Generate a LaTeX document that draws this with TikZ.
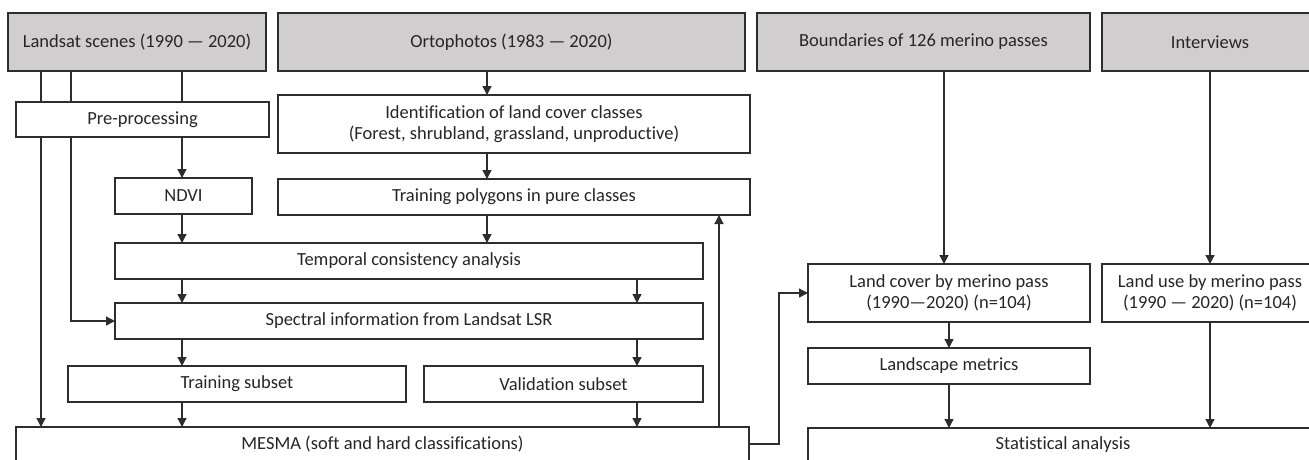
\documentclass[tikz,border=0pt]{standalone}
\usepackage{fontspec}
\setmainfont{Carlito}[Ligatures=NoCommon]
\usetikzlibrary{arrows.meta,backgrounds}
\definecolor{hdr}{RGB}{208,206,206}
\definecolor{ln}{RGB}{45,45,45}
\definecolor{tx}{RGB}{38,38,38}
\newcommand\placebox[7]{\node[#1,minimum width={#5-#4},minimum height={#7-#6}] (#2) at ({(#4+#5)/2},{(#6+#7)/2}) {#3};}
\begin{document}
\begin{tikzpicture}[x=1pt,y=-1pt,
  box/.style={draw=ln, line width=1.3pt, fill=white, inner sep=0pt, outer sep=0pt, text=tx,
    font=\fontsize{18.5}{21}\selectfont, align=center},
  hbox/.style={box, fill=hdr},
  conn/.style={draw=ln, line width=1.3pt},
  arr/.style={conn, -{Triangle[length=9pt,width=9pt]}},
]
\useasboundingbox (0,0) rectangle (1309,459);
\clip (0,0) rectangle (1309,459);
% column coordinates
\coordinate (cA) at (41,0);
\coordinate (cB) at (71,0);
\coordinate (cC) at (182,0);
\coordinate (cD) at (487,0);
\coordinate (cE) at (637,0);
\coordinate (cF) at (719,0);
\coordinate (cG) at (779,0);
\coordinate (cH) at (944,0);
\coordinate (cI) at (949,0);
\coordinate (cJ) at (1210,0);
% header boxes
\placebox{hbox}{ls}{Landsat scenes (1990 — 2020)}{8}{266}{13}{71}
\placebox{hbox}{orto}{Ortophotos (1983 — 2020)}{278}{745}{13}{71}
\placebox{hbox}{bnd}{Boundaries of 126 merino passes}{757}{1090}{13}{71}
\placebox{hbox}{intv}{Interviews}{1102}{1318}{13}{71}
% process boxes
\placebox{box}{pre}{Pre-processing}{16}{269}{102}{137}
\placebox{box}{ident}{Identification of land cover classes\\(Forest, shrubland, grassland, unproductive)}{278}{750}{95}{153}
\placebox{box}{ndvi}{NDVI}{115}{252}{178}{214}
\placebox{box}{tp}{Training polygons in pure classes}{278}{750}{179}{215}
\placebox{box}{temp}{Temporal consistency analysis}{115}{703}{243}{279}
\placebox{box}{spec}{Spectral information from Landsat LSR}{115}{703}{303}{339}
\placebox{box}{trs}{Training subset}{68}{406}{366}{402}
\placebox{box}{val}{Validation subset}{424}{703}{366}{402}
\placebox{box}{mesma}{MESMA (soft and hard classifications)}{16}{749}{427}{461}
\placebox{box}{lc}{Land cover by merino pass\\(1990—2020) (n=104)}{808}{1090}{264}{322}
\placebox{box}{lu}{Land use by merino pass\\(1990 — 2020) (n=104)}{1102}{1318}{264}{322}
\placebox{box}{lm}{Landscape metrics}{808}{1090}{348}{384}
\placebox{box}{stat}{Statistical analysis}{808}{1318}{428}{461}
% connectors passing behind the pre-processing box
\begin{pgfonlayer}{background}
\draw[arr] (ls.south -| cA) -- (mesma.north -| cA);
\draw[arr] (ls.south -| cB) |- (spec.west);
\end{pgfonlayer}
\draw[conn] (ls.south -| cC) -- (pre.north -| cC);
\draw[arr] (pre.south -| cC) -- (ndvi.north -| cC);
\draw[arr] (ndvi.south -| cC) -- (temp.north -| cC);
\draw[arr] (orto.south -| cD) -- (ident.north -| cD);
\draw[arr] (ident.south -| cD) -- (tp.north -| cD);
\draw[arr] (tp.south -| cD) -- (temp.north -| cD);
\draw[arr] (temp.south -| cC) -- (spec.north -| cC);
\draw[arr] (temp.south -| cE) -- (spec.north -| cE);
\draw[arr] (spec.south -| cC) -- (trs.north -| cC);
\draw[arr] (spec.south -| cE) -- (val.north -| cE);
\draw[arr] (trs.south -| cC) -- (mesma.north -| cC);
\draw[arr] (val.south -| cE) -- (mesma.north -| cE);
\draw[arr] (mesma.north -| cF) -- (tp.south -| cF);
\draw[arr] (mesma.east) -- (mesma.east -| cG) |- (lc.west);
\draw[arr] (bnd.south -| cH) -- (lc.north -| cH);
\draw[arr] (intv.south -| cJ) -- (lu.north -| cJ);
\draw[arr] (lc.south -| cI) -- (lm.north -| cI);
\draw[arr] (lm.south -| cI) -- (stat.north -| cI);
\draw[arr] (lu.south -| cJ) -- (stat.north -| cJ);
\end{tikzpicture}
\end{document}
